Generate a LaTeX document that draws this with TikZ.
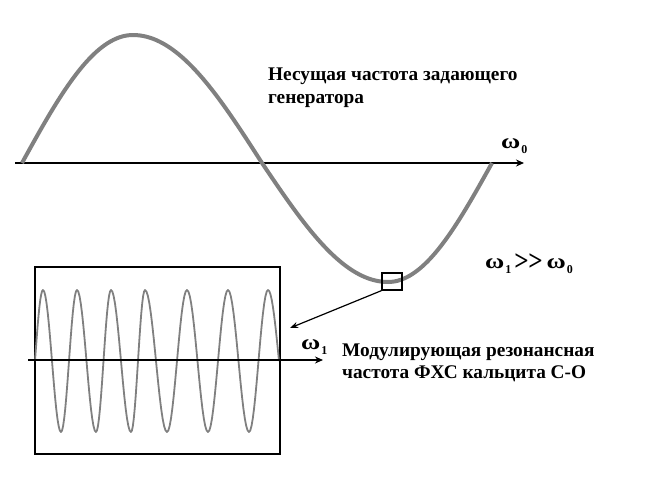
\documentclass[tikz,border=0pt]{standalone}
\usepackage{fontspec}
\setmainfont{Liberation Serif}
\usetikzlibrary{arrows.meta}
\tikzset{
  wave/.style={draw=black!50, line width=4pt, line join=round},
  fastwave/.style={draw=black!50, line width=1.8pt, line join=round},
  axis/.style={draw=black, line width=1.8pt, -{Stealth[length=8pt,width=7pt]}},
  frame/.style={draw=black, line width=2pt},
  lbl/.style={font=\bfseries\fontsize{19.3}{22}\selectfont, inner sep=0pt, anchor=base west},
  om/.style={font=\bfseries\fontsize{21}{22}\selectfont, inner sep=0pt, anchor=base west},
  marker/.style={draw=black, line width=1.4pt, minimum width=20pt, minimum height=17pt, inner sep=0pt},
  pointer/.style={draw=black, line width=1.2pt, -{Stealth[length=8pt,width=6pt]}}
}
\newcommand{\omsub}[1]{\scalebox{1.25}[1]{ω}\kern1pt\raisebox{-5pt}{\fontsize{12}{12}\selectfont #1}}
\newcommand{\muchgreater}{\scalebox{1.05}[1.2]{\fontsize{24}{24}\selectfont{>}\kern-0.5pt{>}}}
\begin{document}
\begin{tikzpicture}[x=1pt,y=-1pt]
\useasboundingbox (0,0) rectangle (648,495);
% big axis
\coordinate (a0s) at (15,163);
\coordinate (a0e) at (524,163);
\draw[axis] (a0s) -- (a0e);
% big wave
\draw[wave] (22,163)
  -- plot[domain=22:133, samples=40] (\x, {163-128*sin(90*(\x-22)/111)})
  -- plot[domain=133:262, samples=40] (\x, {163-128*cos(90*(\x-133)/129)})
  -- plot[domain=262:388, samples=40] (\x, {163+119*sin(90*(\x-262)/126)})
  -- plot[domain=388:492, samples=40] (\x, {163+119*cos(90*(\x-388)/104)});
% marker square
\node[marker] (sq) at (392,281.5) {};
% frame
\draw[frame] (35,267) rectangle (280,454);
% inner axis
\coordinate (a1s) at (28,360);
\coordinate (a1e) at (323,360);
% fast wave
\draw[fastwave] (35,361)
  -- plot[domain=35:43, samples=10] (\x, {361-71*sin(90*(\x-35)/8)})
  \foreach \a/\b/\s in {43/61/1, 61/77/-1, 77/96/1, 96/111/-1, 111/131/1, 131/145/-1, 145/167/1, 167/187/-1, 187/208/1, 208/228/-1, 228/249/1, 249/268/-1} {
    -- plot[domain=\a:\b, samples=16] (\x, {361-\s*71*cos(180*(\x-\a)/(\b-\a))})
  }
  -- plot[domain=268:279, samples=10] (\x, {361-71*cos(90*(\x-268)/11)});
\draw[axis] (a1s) -- (a1e);
% pointer
\coordinate (ptip) at (290,328);
\draw[pointer] (sq.south west) -- (ptip);
% labels
\node[om] (w0) at (501,148) {\omsub{0}};
\node[om] (w1) at (301,349) {\omsub{1}};
\node[om] (rel) at (485,268) {\omsub{1}\kern3pt\raisebox{-2pt}{\muchgreater}\kern4pt\omsub{0}};
\node[lbl] (t1a) at (268,81) {Несущая частота задающего};
\node[lbl] (t1b) at (268,103) {генератора};
\node[lbl] (t2a) at (342,356) {Модулирующая резонансная};
\node[lbl] (t2b) at (342,378) {частота ФХС кальцита С-О};
\end{tikzpicture}
\end{document}
